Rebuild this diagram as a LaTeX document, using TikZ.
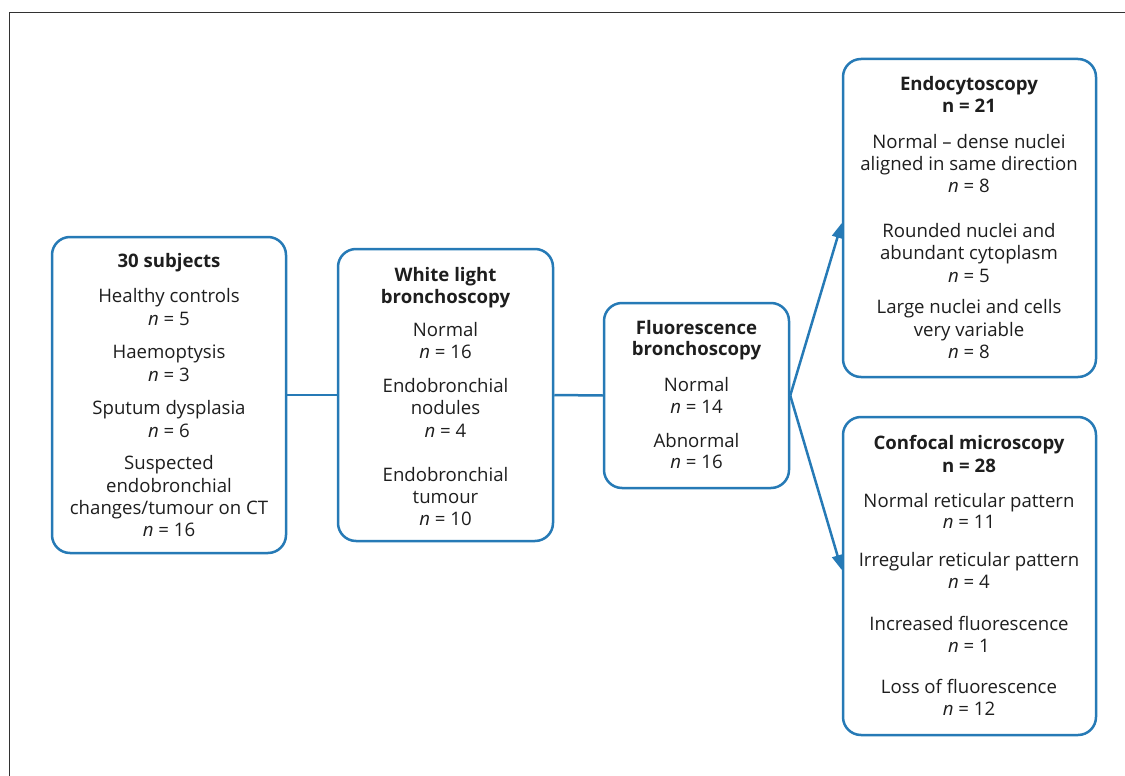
\documentclass[tikz,border=0pt]{standalone}
\usepackage{fontspec}
\setmainfont{Open Sans}
\usetikzlibrary{arrows.meta}
\definecolor{boxblue}{RGB}{38,122,182}
\definecolor{textc}{RGB}{30,30,30}
\definecolor{framec}{RGB}{50,50,50}
\tikzset{
  box/.style={draw=boxblue, line width=2.5pt, rounded corners=18pt, fill=white, inner sep=0pt},
  txt/.style={anchor=base, inner sep=0pt, text=textc, font=\fontsize{18.6}{22}\selectfont},
  ttl/.style={txt, font=\fontsize{18.6}{22}\selectfont\bfseries},
  conn/.style={draw=boxblue, line width=2.5pt},
  arr/.style={conn, -{Triangle[length=15pt,width=11pt]}}
}
\newcommand{\nn}[1]{\textit{n} = #1}
\begin{document}
\begin{tikzpicture}[x=1pt,y=-1pt]
\useasboundingbox (0,0) rectangle (1125,776);
\draw[framec, line width=1.8pt] (9.5,776) -- (9.5,12.5) -- (1125,12.5);

% boxes
\node[box, minimum width=234pt, minimum height=316pt] (b1) at (169,395) {};
\node[box, minimum width=215pt, minimum height=292pt] (b2) at (445.5,395) {};
\node[box, minimum width=185pt, minimum height=185pt] (b3) at (696.5,395.5) {};
\node[box, minimum width=253pt, minimum height=318pt] (b4) at (969.5,218) {};
\node[box, minimum width=253pt, minimum height=318pt] (b5) at (969.5,576) {};

% connectors
\draw[conn] (b1.east) -- (b2.west);
\draw[conn] (b2.east) -- (b3.west);
\draw[arr] (b3.east) -- ([yshift=-5pt]b4.west);
\draw[arr] (b3.east) -- ([yshift=6pt]b5.west);

% box 1 text
\node[ttl] (a1) at (169,267) {30 subjects};
\node[txt] (a2) at (169,302) {Healthy controls};
\node[txt] (a3) at (169,325) {\nn{5}};
\node[txt] (a4) at (169,358) {Haemoptysis};
\node[txt] (a5) at (169,381) {\nn{3}};
\node[txt] (a6) at (169,414) {Sputum dysplasia};
\node[txt] (a7) at (169,437) {\nn{6}};
\node[txt] (a8) at (169,469) {Suspected};
\node[txt] (a9) at (169,492) {endobronchial};
\node[txt] (a10) at (169,514) {changes/tumour on CT};
\node[txt] (a11) at (169,536) {\nn{16}};

% box 2 text
\node[ttl] (w1) at (445.5,281) {White light};
\node[ttl] (w2) at (445.5,303) {bronchoscopy};
\node[txt] (w3) at (445.5,336) {Normal};
\node[txt] (w4) at (445.5,358) {\nn{16}};
\node[txt] (w5) at (445.5,392) {Endobronchial};
\node[txt] (w6) at (445.5,414) {nodules};
\node[txt] (w7) at (445.5,437) {\nn{4}};
\node[txt] (w8) at (445.5,481) {Endobronchial};
\node[txt] (w9) at (445.5,503) {tumour};
\node[txt] (w10) at (445.5,525) {\nn{10}};

% box 3 text
\node[ttl] (f1) at (696.5,334) {Fluorescence};
\node[ttl] (f2) at (696.5,355) {bronchoscopy};
\node[txt] (f3) at (696.5,391) {Normal};
\node[txt] (f4) at (696.5,413) {\nn{14}};
\node[txt] (f5) at (696.5,447) {Abnormal};
\node[txt] (f6) at (696.5,468) {\nn{16}};

% box 4 text
\node[ttl] (e1) at (969,91) {Endocytoscopy};
\node[ttl] (e2) at (969,113) {n = 21};
\node[txt] (e3) at (969,148) {Normal – dense nuclei};
\node[txt] (e4) at (969,170) {aligned in same direction};
\node[txt] (e5) at (969,192) {\nn{8}};
\node[txt] (e6) at (969,237) {Rounded nuclei and};
\node[txt] (e7) at (969,259) {abundant cytoplasm};
\node[txt] (e8) at (969,282) {\nn{5}};
\node[txt] (e9) at (969,313) {Large nuclei and cells};
\node[txt] (e10) at (969,336) {very variable};
\node[txt] (e11) at (969,358) {\nn{8}};

% box 5 text
\node[ttl] (c1) at (969,449) {Confocal microscopy};
\node[ttl] (c2) at (969,472) {n = 28};
\node[txt] (c3) at (969,507) {Normal reticular pattern};
\node[txt] (c4) at (969,528) {\nn{11}};
\node[txt] (c5) at (969,566) {Irregular reticular pattern};
\node[txt] (c6) at (969,588) {\nn{4}};
\node[txt] (c7) at (969,630) {Increased fluorescence};
\node[txt] (c8) at (969,652) {\nn{1}};
\node[txt] (c9) at (969,693) {Loss of fluorescence};
\node[txt] (c10) at (969,715) {\nn{12}};
\end{tikzpicture}
\end{document}
